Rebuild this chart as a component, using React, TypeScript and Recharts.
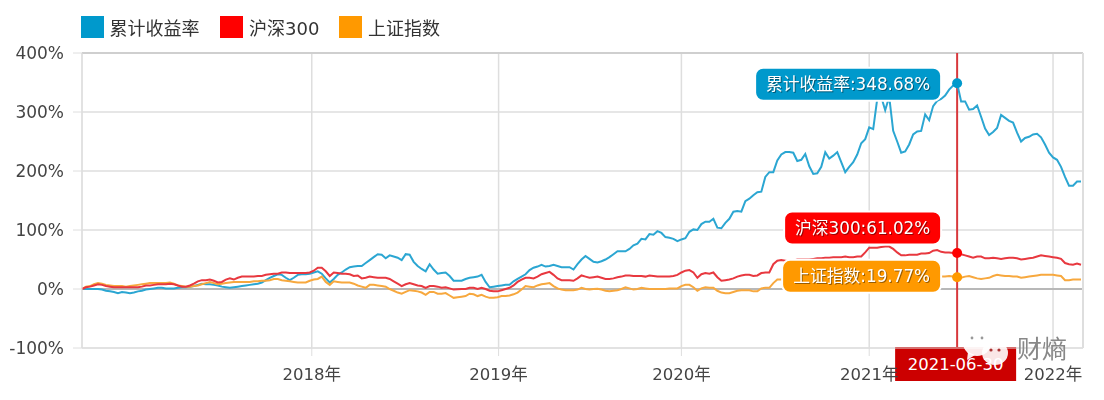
import React from 'react';
import { ComposedChart, Line, XAxis, YAxis, CartesianGrid, ReferenceLine } from 'recharts';

// one reading about every 4px along the axis, 10 per row
const cumulative = [
    0, 0, 0, 0, 0, -1, -3, -4, -5, -7,
    -5, -6, -7, -6, -4, -3, -1, 0, 1, 2,
    2, 1, 1, 1, 2, 3, 3, 4, 5, 7,
    9, 8, 8, 7, 6, 4, 3, 2, 3, 4,
    5, 6, 7, 8, 9, 11, 15, 19, 22, 25,
    24, 19, 15, 19, 24, 25, 25, 26, 28, 30,
    26, 18, 11, 17, 24, 28, 33, 37, 38, 39,
    39, 44, 49, 54, 59, 58, 52, 57, 55, 53,
    49, 59, 58, 46, 39, 34, 30, 42, 33, 26,
    27, 28, 22, 14, 14, 14, 17, 19, 20, 21,
    24, 12, 3, 4, 5, 6, 7, 7, 13, 17,
    21, 25, 32, 36, 38, 41, 38, 39, 41, 39,
    37, 37, 37, 33, 42, 50, 56, 51, 46, 45,
    47, 50, 54, 59, 64, 64, 64, 68, 74, 77,
    85, 84, 93, 92, 98, 95, 88, 87, 85, 81,
    84, 86, 97, 101, 100, 110, 114, 114, 119, 104,
    103, 112, 119, 131, 132, 131, 149, 153, 159, 164,
    165, 190, 198, 198, 218, 228, 232, 232, 231, 217,
    219, 229, 208, 195, 196, 207, 232, 221, 226, 232,
    215, 198, 207, 215, 228, 247, 254, 274, 271, 322,
    326, 303, 326, 268, 250, 231, 233, 245, 262, 267,
    268, 296, 286, 310, 319, 322, 328, 338, 345, 348.68,
    318, 318, 304, 305, 311, 292, 272, 261, 266, 273,
    295, 290, 285, 282, 265, 250, 256, 258, 262, 263,
    257, 245, 231, 223, 219, 207, 190, 175, 175, 182,
    182,
];
const hs300 = [
    0, 3, 4, 6, 8, 7, 5, 4, 3, 3,
    3, 3, 3, 3, 3, 4, 6, 6, 7, 8,
    8, 8, 9, 8, 6, 4, 4, 6, 9, 13,
    15, 15, 16, 14, 11, 12, 16, 18, 16, 19,
    21, 21, 21, 21, 22, 22, 24, 25, 26, 26,
    28, 28, 27, 27, 27, 27, 27, 28, 31, 36,
    36, 30, 22, 28, 27, 26, 26, 25, 22, 23,
    18, 19, 21, 20, 19, 19, 19, 17, 13, 9,
    5, 8, 10, 8, 6, 5, 2, 5, 5, 4,
    2, 3, 1, -1, -0.5, 0, 0, 2, 2, 0,
    2, 0, -3, -4, -4, -2, 0, 2, 6, 12,
    16, 19, 19, 18, 21, 25, 27, 29, 24, 18,
    15, 15, 15, 14, 18, 23, 21, 19, 20, 21,
    19, 17, 17, 18, 20, 21, 23, 23, 22, 22,
    22, 21, 23, 22, 21, 21, 21, 21, 22, 24,
    28, 31, 32, 28, 19, 25, 27, 26, 28, 20,
    14, 15, 16, 18, 21, 23, 24, 24, 22, 23,
    27, 28, 28, 42, 48, 49, 48, 47, 48, 50,
    50, 50, 50, 51, 52, 52, 53, 53, 54, 54,
    54, 55, 54, 54, 55, 55, 62, 70, 70, 70,
    71, 72, 72, 68, 62, 57, 57, 58, 58, 58,
    60, 60, 61, 65, 66, 63, 62, 62, 61, 61.02,
    59, 57, 55, 53, 55, 55, 52, 52, 53, 52,
    51, 52, 53, 53, 52, 50, 51, 52, 53, 55,
    57, 56, 55, 54, 53, 51, 44, 42, 41, 43,
    41,
];
const szIndex = [
    0, 4, 5, 8, 10, 9, 7, 6, 5, 5,
    5, 4, 5, 6, 7, 8, 9, 10, 10, 10,
    10, 10, 11, 9, 6, 5, 4, 4, 5, 6,
    8, 10, 12, 10, 8, 9, 10, 11, 12, 12,
    12, 12, 12, 13, 13, 14, 14, 15, 17, 17,
    15, 14, 13, 12, 11, 11, 11, 14, 16, 17,
    21, 12, 7, 13, 12, 11, 11, 11, 9, 6,
    4, 2, 7, 7, 6, 5, 4, 0, -3, -6,
    -8, -5, -2, -3, -4, -6, -10, -5, -5, -8,
    -8, -7, -11, -15, -14, -13, -12, -8, -9, -12,
    -10, -13, -15, -15, -14, -12, -12, -11, -9, -6,
    -1, 5, 4, 3, 6, 8, 9, 10, 5, 1,
    -1, -2, -2, -2, -1, 2, 0, -1, 0, 0.5,
    -1, -3, -4, -3, -2, 0, 3, 1, -1, 0,
    2, 1, 0, 0, 0, 0, 0, 1, 1, 1,
    5, 7, 7, 3, -3, 1, 3, 2, 2, -3,
    -6, -7, -7, -5, -3, -2, -2, -2, -4, -4,
    1, 2, 2, 10, 16, 16, 16, 15, 15, 16,
    16, 17, 17, 16, 16, 15, 15, 16, 17, 17,
    17, 17, 17, 18, 18, 18, 18, 18, 19, 19,
    19, 20, 20, 20, 20, 20, 20, 20, 20, 21,
    21, 21, 21, 21, 21, 21, 21, 22, 21, 19.77,
    19, 21, 22, 20, 18, 17, 18, 19, 22, 24,
    23, 22, 22, 21, 21, 19, 20, 21, 22, 23,
    24, 24, 24, 24, 23, 22, 15, 15, 16, 16,
    16,
];

const yearTicks = [57.5, 104.25, 150, 197, 243];
const yearLabels = ['2018年', '2019年', '2020年', '2021年', '2022年'];
const percentTicks = [-100, 0, 100, 200, 300, 400];
const cursorIndex = 219;
const cursorDate = '2021-06-30';
const xEnd = 250.5;

const font = '"DejaVu Sans", "Noto Sans CJK SC", sans-serif';

const legendItems = [
    { name: '累计收益率', color: '#0099cc', left: 80.5 },
    { name: '沪深300', color: '#ff0000', left: 220 },
    { name: '上证指数', color: '#ff9900', left: 339 },
];

const chartData = cumulative.map((value, i) => ({
    i,
    cumulative: value,
    hs300: hs300[i],
    szIndex: szIndex[i],
}));

// draws the hover callout on the cursor point only
const calloutDot = (name: string, value: number, color: string, boxWidth: number, dy: number) => (props: any) => {
    if (props.index !== cursorIndex) return <g key={props.index} />;
    const right = props.cx - 16;
    const top = props.cy + dy - 16.5;
    return (
        <g key={props.index}>
            <rect x={right - boxWidth} y={top} width={boxWidth} height={33} rx={8} fill={color} stroke="#fff" strokeWidth={2} />
            <text
                x={right - boxWidth / 2}
                y={top + 22.5}
                textAnchor="middle"
                fontSize={16.8}
                fill="#fff"
                fontFamily={font}
                style={{ filter: 'drop-shadow(1px 1px 0 rgba(0,0,0,0.4))' }}
            >
                {`${name}:${value.toFixed(2)}%`}
            </text>
            <circle cx={props.cx} cy={props.cy} r={5} fill={color} />
        </g>
    );
};

const DateFlag = ({ viewBox }: any) => {
    const cx = viewBox.x;
    const bottom = viewBox.y + viewBox.height;
    return (
        <g>
            <rect x={cx - 62} y={bottom - 1} width={121} height={34} fill="#cc0000" />
            <text x={cx - 1.5} y={bottom + 22} textAnchor="middle" fontSize={16.5} fill="#fff" fontFamily={font}>
                {cursorDate}
            </text>
        </g>
    );
};

const App: React.FC = () => {
    return (
        <div style={{ position: 'absolute', left: 0, top: 0, width: 1104, height: 400, fontFamily: font, filter: 'blur(0.5px)' }}>
            <ComposedChart
                width={1104}
                height={400}
                data={chartData}
                margin={{ top: 53, right: 21, bottom: 0, left: 0 }}
            >
                <CartesianGrid stroke="#dedede" strokeWidth={1.5} />
                <XAxis
                    dataKey="i"
                    type="number"
                    domain={[0, xEnd]}
                    ticks={yearTicks}
                    tickFormatter={(v: number) => yearLabels[yearTicks.indexOf(v)]}
                    interval={0}
                    tick={{ fontSize: 16.5, fill: '#444', fontFamily: font }}
                    tickSize={8}
                    tickMargin={12}
                    height={52}
                    stroke="#dedede"
                />
                <YAxis
                    type="number"
                    domain={[-100, 400]}
                    ticks={percentTicks}
                    tickFormatter={(v: number) => `${v}%`}
                    tick={{ fontSize: 17, fill: '#444', fontFamily: font }}
                    tickSize={9}
                    tickMargin={9}
                    width={82}
                    stroke="#dedede"
                />
                <ReferenceLine y={400} stroke="#cfcfcf" strokeWidth={2} />
                <ReferenceLine y={0} stroke="#b8b8b8" strokeWidth={2} />
                <ReferenceLine x={xEnd} stroke="#dedede" strokeWidth={2} />
                <ReferenceLine x={cursorIndex} stroke="#d8383c" strokeWidth={2} label={<DateFlag />} />
                <Line
                    dataKey="cumulative"
                    stroke="#2ba6d2"
                    strokeWidth={2}
                    dot={calloutDot('累计收益率', 348.68, '#0099cc', 186, 1)}
                    activeDot={false}
                    isAnimationActive={false}
                />
                <Line
                    dataKey="szIndex"
                    stroke="#f7a83e"
                    strokeWidth={2}
                    dot={calloutDot('上证指数', 19.77, '#ff9900', 159, -1)}
                    activeDot={false}
                    isAnimationActive={false}
                />
                <Line
                    dataKey="hs300"
                    stroke="#e8383f"
                    strokeWidth={2}
                    dot={calloutDot('沪深300', 61.02, '#ff0000', 157, -25)}
                    activeDot={false}
                    isAnimationActive={false}
                />
            </ComposedChart>

            {legendItems.map((item) => (
                <div key={item.name} style={{ position: 'absolute', left: item.left, top: 16, display: 'flex', alignItems: 'center', height: 22 }}>
                    <span style={{ width: 23, height: 22, background: item.color, display: 'inline-block', marginRight: 6 }} />
                    <span style={{ fontSize: 18, color: '#333', whiteSpace: 'nowrap' }}>{item.name}</span>
                </div>
            ))}

            {/* watermark */}
            <svg width={60} height={50} style={{ position: 'absolute', left: 960, top: 328 }}>
                <ellipse cx={17} cy={15} rx={14} ry={13} fill="#fff" fillOpacity={0.92} />
                <path d="M8 24 L7 32 L15 27 Z" fill="#fff" fillOpacity={0.92} />
                <circle cx={12} cy={10} r={1.4} fill="#999" />
                <circle cx={22} cy={10} r={1.4} fill="#999" />
                <ellipse cx={35} cy={25} rx={13} ry={12} fill="#fff" fillOpacity={0.9} />
                <circle cx={31} cy={22} r={1.6} fill="#a33" />
                <circle cx={39} cy={22} r={1.6} fill="#a33" />
            </svg>
            <div style={{ position: 'absolute', left: 1017, top: 336, fontSize: 25, lineHeight: '28px', color: '#888', whiteSpace: 'nowrap' }}>财熵</div>
        </div>
    );
};

export default App;
